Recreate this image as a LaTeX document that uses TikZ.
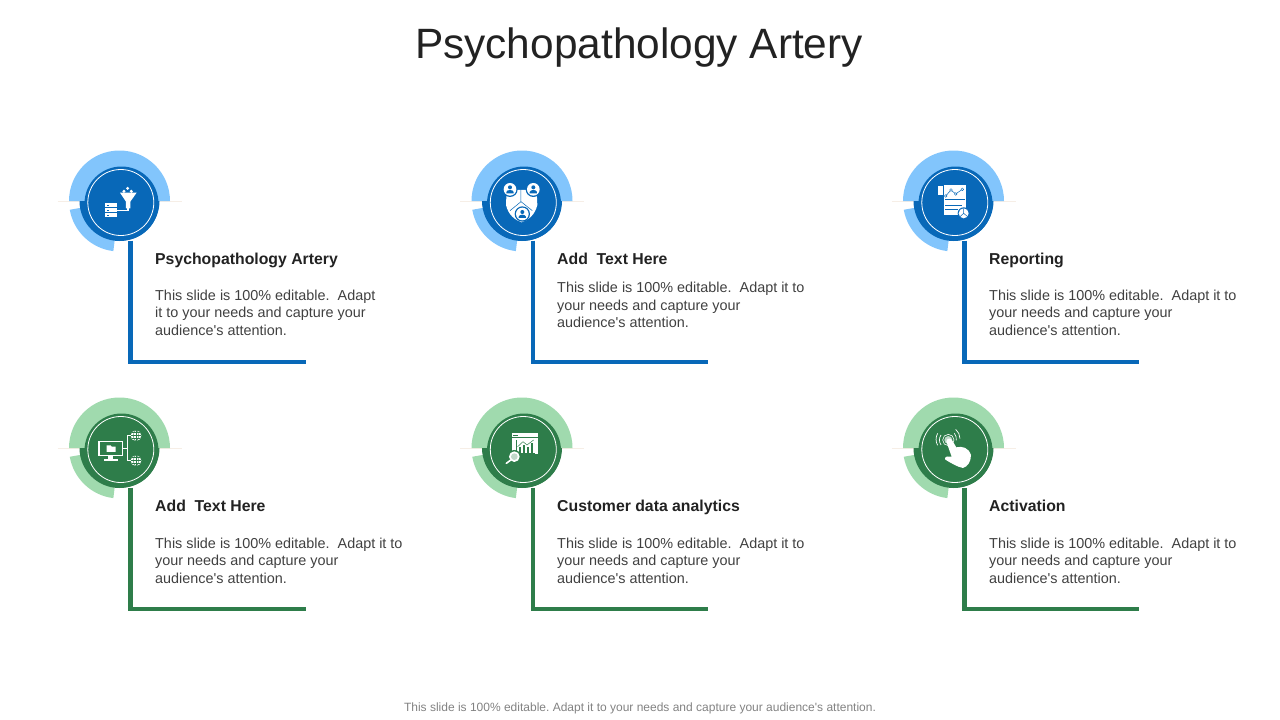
\documentclass[tikz,border=0pt]{standalone}
\usepackage{fontspec}
\setmainfont{Liberation Sans}
\usepackage{xcolor}
\definecolor{bluedark}{RGB}{8, 104, 184}
\definecolor{bluelight}{RGB}{130, 197, 252}
\definecolor{greendark}{RGB}{46, 125, 74}
\definecolor{greenlight}{RGB}{160, 218, 174}
\definecolor{softline}{RGB}{246, 238, 230}
\definecolor{inktext}{RGB}{34, 34, 34}
\definecolor{bodygray}{RGB}{64, 64, 64}
\definecolor{foottext}{RGB}{130, 130, 130}
\tikzset{
    titletext/.style={text=inktext, inner sep=0pt, font=\fontsize{42.4}{50}\selectfont},
    headtext/.style={anchor=base west, text=inktext, inner sep=0pt, font=\fontsize{15.8}{19}\selectfont\bfseries},
    bodytext/.style={anchor=north west, align=left, text=bodygray, inner sep=0pt, font=\fontsize{14.4}{17.5}\selectfont},
    foottext/.style={text=foottext, inner sep=0pt, font=\fontsize{12}{14}\selectfont\frenchspacing},
    disc/.style={circle, minimum size=74pt, inner sep=0pt},
    whitering/.style={circle, draw=white, line width=0.8pt, minimum size=66pt, inner sep=0pt},
    iconzoom/.style={x=0.3333pt, y=-0.3333pt},
}

\begin{document}
\begin{tikzpicture}[x=1pt, y=-1pt]
    \useasboundingbox (0,0) rectangle (1280,720);
    \node[titletext] (title) at (639,47.5) {Psychopathology Artery};

    % badges and their corner lines
    \foreach \name/\cx/\cy/\endx/\dark/\light in {
        a/119.5/201/306/bluedark/bluelight,
        b/522/201/708/bluedark/bluelight,
        c/953.5/201/1139/bluedark/bluelight,
        d/119.5/448/306/greendark/greenlight,
        e/522/448/708/greendark/greenlight,
        f/953.5/448/1139/greendark/greenlight} {
        \coordinate (lineleft\name) at (\cx-62,\cy);
        \coordinate (lineright\name) at (\cx+62,\cy);
        \draw[softline, line width=0.8pt] (lineleft\name) -- (lineright\name);
        \fill[\light] (\cx+50.5,\cy) arc[start angle=0, end angle=180, radius=50.5pt] -- cycle;
        \fill[\light] (\cx,\cy) -- ++(190:50.5pt) arc[start angle=190, end angle=263, radius=50.5pt] -- cycle;
        \fill[\dark] (\cx+40,\cy) arc[start angle=0, end angle=-180, radius=40pt] -- cycle;
        \node[disc, fill=\dark] (dot\name) at (\cx+2,\cy+2.5) {};
        \node[whitering] (ring\name) at (\cx+1.3,\cy+1.5) {};
        \coordinate (corner\name) at (\cx+10.8,\cy+161);
        \coordinate (tail\name) at (\endx,\cy+161);
        \draw[\dark, line width=4.4pt] (corner\name |- dot\name.south) -- (corner\name) -- (tail\name);
    }

    % funnel and servers
    \begin{scope}[shift={(50,140)}, iconzoom]
        \fill[white] (233,145) circle[radius=5pt/3] (222,154) circle[radius=5pt/3] (244,154) circle[radius=5pt/3];
        \fill[white] (210,158) -- (260,158) -- (241,185) -- (241,205) -- (228,205) -- (228,185) -- cycle;
        \draw[white, line width=1.3pt] (234,205) -- (234,212) -- (200,212);
        \foreach \top in {190,205,220} {
            \fill[white] (165,\top) rectangle (200,\top+12);
            \fill[bluedark] (170,\top+5) rectangle (176,\top+7);
        }
    \end{scope}

    % shield with three people
    \begin{scope}[shift={(455,140)}, iconzoom]
        \fill[white] (155,150) -- (245,150) -- (247,195) .. controls (240,225) and (220,240) .. (200,247) .. controls (180,240) and (160,225) .. (153,195) -- cycle;
        \draw[bluedark, line width=0.5pt] (198,135) -- (198,185) -- (165,212) (198,185) -- (232,212);
        \foreach \px/\py in {165/148, 235/148, 202/222} {
            \fill[bluedark] (\px,\py) circle[radius=23pt/3];
            \fill[white] (\px,\py) circle[radius=19pt/3];
            \fill[bluedark] (\px,\py-6) circle[radius=6pt/3];
            \fill[bluedark] (\px-11,\py+12) -- (\px-11,\py+8) .. controls (\px-9,\py) and (\px+9,\py) .. (\px+11,\py+8) -- (\px+11,\py+12) -- cycle;
        }
    \end{scope}

    % report page
    \begin{scope}[shift={(885,140)}, iconzoom]
        \fill[white] (160,138) rectangle (176,165);
        \fill[white] (176,135) rectangle (244,225);
        \draw[bluedark, line width=0.5pt] (176,138) -- (176,165);
        \draw[bluedark, line width=0.5pt] (182,168) -- (198,150) -- (212,162) -- (232,148);
        \foreach \px/\py in {182/168, 198/150, 212/162, 232/148} {
            \fill[white] (\px,\py) circle[radius=4pt/3];
            \draw[bluedark, line width=0.4pt] (\px,\py) circle[radius=4pt/3];
        }
        \draw[bluedark, line width=0.5pt] (180,178) -- (240,178) (180,197) -- (232,197) (180,208) -- (218,208);
        \fill[bluedark] (236,220) circle[radius=18pt/3];
        \fill[white] (236,220) circle[radius=15pt/3];
        \draw[bluedark, line width=0.5pt] (236,220) -- (236,205) (236,220) -- (225,230) (236,220) -- (248,230);
    \end{scope}

    % monitor and two globes
    \begin{scope}[shift={(50,390)}, iconzoom]
        \draw[white, line width=1.6pt] (147,154) rectangle (218,196);
        \fill[white] (170,166) -- (182,166) -- (185,170) -- (197,170) -- (197,186) -- (170,186) -- cycle;
        \fill[white] (175,196) rectangle (190,207);
        \fill[white] (162,207) rectangle (203,212);
        \draw[white, line width=0.8pt] (218,175) -- (232,175) (243,137) -- (232,137) -- (232,212) -- (243,212);
        \foreach \py in {137,212} {
            \fill[white] (258,\py) circle[radius=16pt/3];
            \draw[greendark, line width=0.4pt] (242,\py) -- (274,\py) (258,\py-16) -- (258,\py+16) (247,\py-9) -- (269,\py-9) (247,\py+9) -- (269,\py+9);
            \draw[greendark, line width=0.4pt] (258,\py) ellipse[x radius=8pt/3, y radius=16pt/3];
        }
    \end{scope}

    % chart window and magnifier
    \begin{scope}[shift={(455,390)}, iconzoom]
        \fill[white] (170,130) rectangle (248,192);
        \draw[greendark, line width=0.5pt] (170,142) -- (248,142);
        \draw[greendark, line width=0.7pt] (175,136) -- (188,136);
        \draw[greendark, line width=0.6pt] (184,150) -- (184,190) -- (240,190);
        \foreach \bx/\by in {192/172, 204/165, 216/172, 228/160} {
            \fill[greendark] (\bx,\by) rectangle (\bx+6,190);
        }
        \draw[greendark, line width=0.5pt] (188,170) -- (204,155) -- (216,165) -- (236,150);
        \fill[greendark] (178,200) circle[radius=20pt/3];
        \fill[white] (178,200) circle[radius=16pt/3];
        \fill[greendark!30] (178,200) circle[radius=10pt/3];
        \draw[white, line width=1.6pt, line cap=round] (166,211) -- (154,220);
    \end{scope}

    % touching hand
    \begin{scope}[shift={(885,390)}, iconzoom]
        \fill[white!70!greendark] (190,150) circle[radius=12pt/3];
        \draw[white, line width=0.6pt] (190,150) circle[radius=17pt/3];
        \draw[white, line width=0.7pt] (168,135) arc[start angle=145, end angle=215, radius=26pt/3];
        \draw[white, line width=0.7pt] (158,130) arc[start angle=150, end angle=210, radius=36pt/3];
        \draw[white, line width=0.7pt] (208,130) arc[start angle=40, end angle=-10, radius=26pt/3];
        \draw[white, line width=0.7pt] (212,118) arc[start angle=50, end angle=0, radius=36pt/3];
        \fill[white] (184,155) .. controls (186,142) and (198,144) .. (202,152) -- (214,172)
            .. controls (232,168) and (250,172) .. (258,195) .. controls (258,215) and (248,230) .. (234,234)
            .. controls (220,232) and (195,218) .. (180,208) .. controls (178,198) and (192,198) .. (200,200) -- cycle;
    \end{scope}

    % texts of the upper row
    \node[headtext] (heada) at (155,264) {Psychopathology Artery};
    \node[bodytext] (bodya) at (155,289.7) {This slide is 100\% editable.\ \ Adapt\\it to your needs and capture your\\audience\textquotesingle s attention.};
    \node[headtext] (headb) at (557,264) {Add\ \ Text Here};
    \node[bodytext] (bodyb) at (557,282.2) {This slide is 100\% editable.\ \ Adapt it to\\your needs and capture your\\audience\textquotesingle s attention.};
    \node[headtext] (headc) at (989,264) {Reporting};
    \node[bodytext] (bodyc) at (989,289.7) {This slide is 100\% editable.\ \ Adapt it to\\your needs and capture your\\audience\textquotesingle s attention.};

    % texts of the lower row
    \node[headtext] (headd) at (155,511) {Add\ \ Text Here};
    \node[bodytext] (bodyd) at (155,537.7) {This slide is 100\% editable.\ \ Adapt it to\\your needs and capture your\\audience\textquotesingle s attention.};
    \node[headtext] (heade) at (557,511) {Customer data analytics};
    \node[bodytext] (bodye) at (557,537.7) {This slide is 100\% editable.\ \ Adapt it to\\your needs and capture your\\audience\textquotesingle s attention.};
    \node[headtext] (headf) at (989,511) {Activation};
    \node[bodytext] (bodyf) at (989,537.7) {This slide is 100\% editable.\ \ Adapt it to\\your needs and capture your\\audience\textquotesingle s attention.};

    \node[foottext] (foot) at (640,708) {This slide is 100\% editable. Adapt it to your needs and capture your audience\textquotesingle s attention.};
\end{tikzpicture}
\end{document}
